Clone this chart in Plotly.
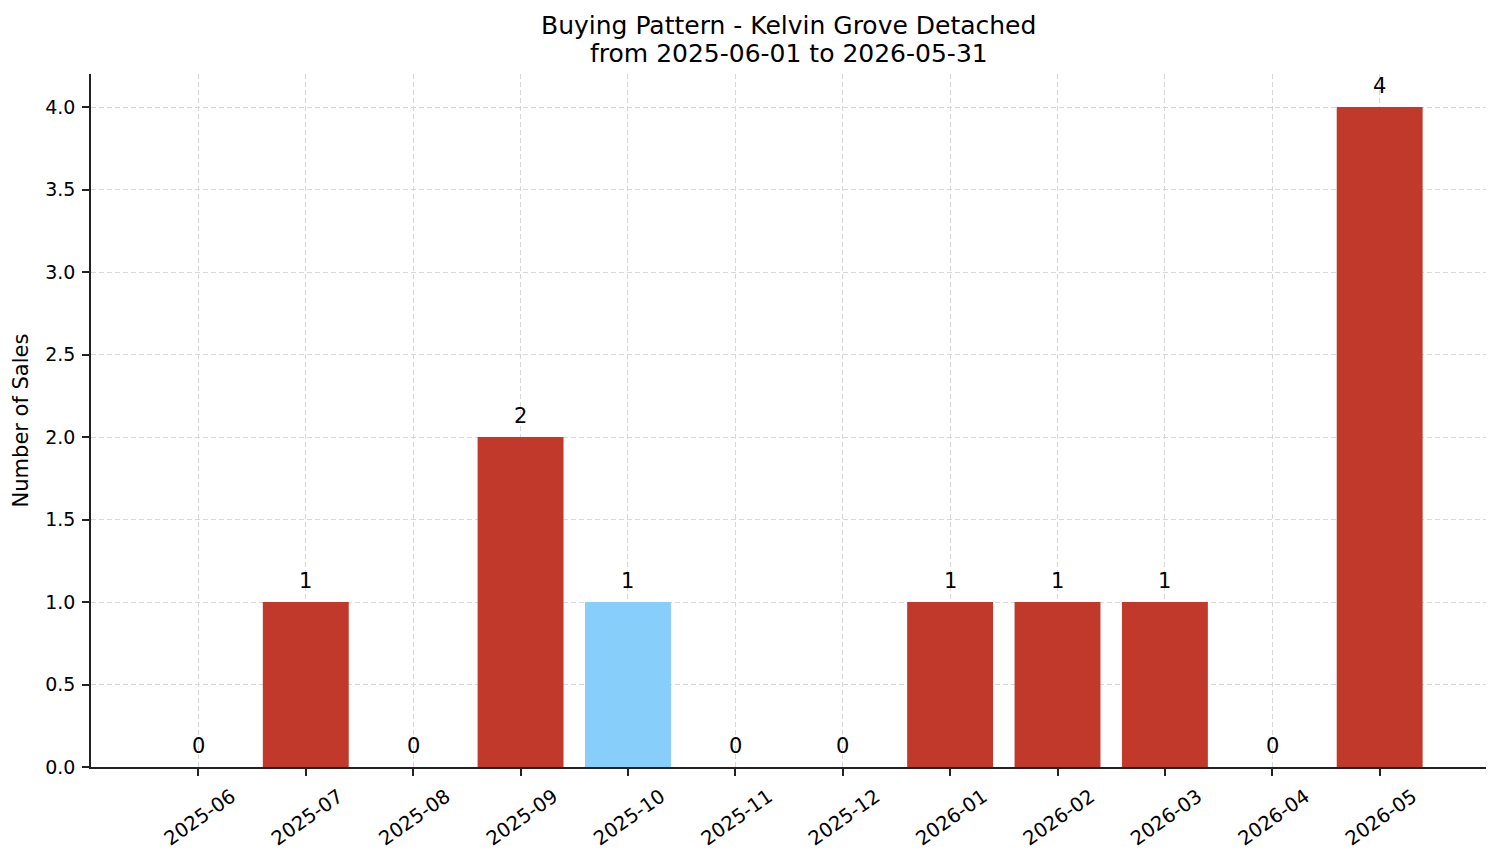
import plotly.graph_objects as go

months = ["2025-06", "2025-07", "2025-08", "2025-09", "2025-10", "2025-11",
          "2025-12", "2026-01", "2026-02", "2026-03", "2026-04", "2026-05"]
sales = [0, 1, 0, 2, 1, 0, 0, 1, 1, 1, 0, 4]
highlight = "2025-10"
y_ticks = [0, 0.5, 1, 1.5, 2, 2.5, 3, 3.5, 4]
title_lines = ["Buying Pattern - Kelvin Grove Detached", "from 2025-06-01 to 2026-05-31"]

RED = "#c0392b"
BLUE = "#87cefa"
FONT = "DejaVu Sans"
GRID = "#d8d8d8"

xs = list(range(len(months)))
colors = [BLUE if m == highlight else RED for m in months]

fig = go.Figure()
fig.add_trace(go.Bar(x=xs, y=sales, width=0.8, marker=dict(color=colors, line=dict(width=0)),
                     showlegend=False, hoverinfo="skip"))

for x, v in zip(xs, sales):
    fig.add_annotation(x=x, y=v, xref="x", yref="y", text=str(v), showarrow=False,
                       yanchor="middle", yshift=21,
                       font=dict(family=FONT, size=21, color="black"))

for line, shift in zip(title_lines, [49, 21]):
    fig.add_annotation(x=0.5, y=1, xref="paper", yref="paper", xanchor="center", yanchor="middle",
                       yshift=shift, showarrow=False, text=line,
                       font=dict(family=FONT, size=25, color="black"))

fig.update_layout(
    width=1501, height=863,
    margin=dict(l=91, r=15, t=74, b=96),
    paper_bgcolor="white", plot_bgcolor="white",
    font=dict(family=FONT, size=19, color="black"),
    bargap=0.2,
)
fig.update_xaxes(
    tickmode="array", tickvals=xs, ticktext=months, tickangle=-35,
    ticklabelshift=33, ticklabelstandoff=2,
    range=[-1.0, 11.99], showline=True, linecolor="#222222", linewidth=1.6,
    ticks="outside", ticklen=7, tickwidth=1.6, tickcolor="#222222",
    showgrid=True, gridcolor=GRID, griddash="5px,3px", gridwidth=0.8,
    layer="above traces", zeroline=False,
    tickfont=dict(family=FONT, size=19.5, color="black"),
)
fig.update_yaxes(
    range=[0, 4.2], tickmode="array", tickvals=y_ticks,
    ticktext=[f"{t:.1f}" for t in y_ticks],
    ticklabelstandoff=3,
    showline=True, linecolor="#222222", linewidth=1.6,
    ticks="outside", ticklen=7, tickwidth=1.6, tickcolor="#222222",
    showgrid=True, gridcolor=GRID, griddash="5px,3px", gridwidth=0.8,
    layer="above traces", zeroline=False,
    title=dict(text="Number of Sales", font=dict(family=FONT, size=21, color="black"), standoff=11),
    tickfont=dict(family=FONT, size=19, color="black"),
)

fig.write_html("out.html")
